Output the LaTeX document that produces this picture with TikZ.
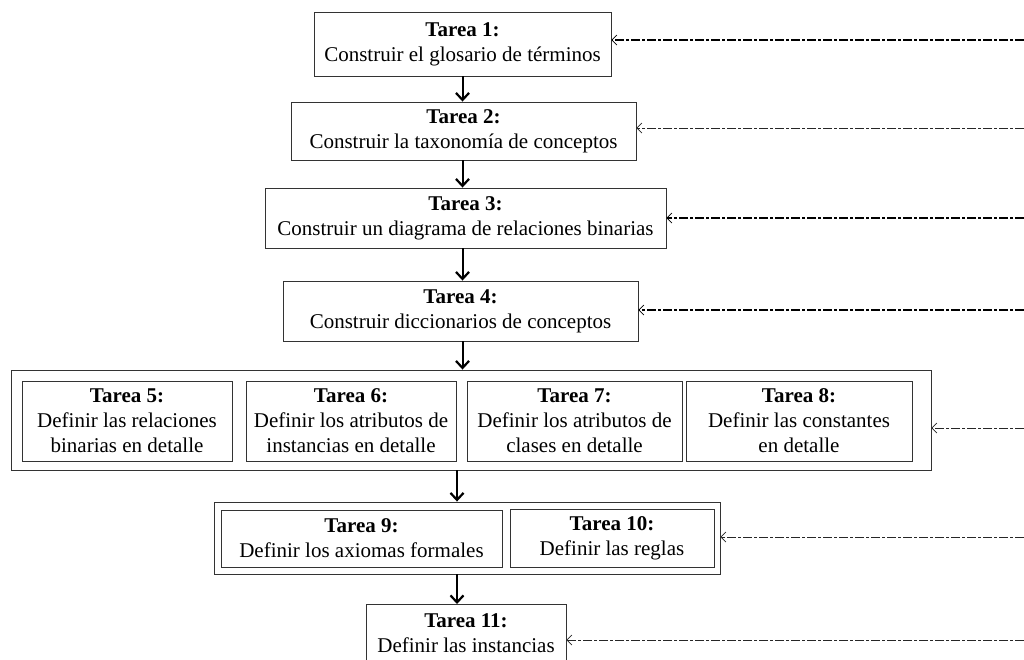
\documentclass[tikz,border=0pt]{standalone}
\usepackage{fontspec}
\setmainfont{Liberation Serif}
\usetikzlibrary{arrows.meta}
\begin{document}
\begin{tikzpicture}[x=1pt,y=-1pt,
  box/.style={draw=black!80,line width=0.9pt,inner sep=0pt,align=center,
    font=\fontsize{21}{25}\selectfont},
  grp/.style={draw=black!80,line width=0.9pt,inner sep=0pt},
  flow/.style={line width=2pt,-{Straight Barb[length=7pt,width=13pt,line width=2.2pt]}},
  fbthick/.style={line width=1.6pt,dash pattern=on 9pt off 2pt on 3pt off 2pt,
    -{Straight Barb[length=5pt,width=10pt,line width=0.7pt]}},
  fbthin/.style={line width=0.8pt,black!85,dash pattern=on 9pt off 2pt on 3pt off 2pt,
    -{Straight Barb[length=5pt,width=10pt,line width=0.7pt]}}
]
\useasboundingbox (0,0) rectangle (1024,659);
\fill[white] (0,0) rectangle (1024,659);

\node[box,minimum width=297pt,minimum height=64pt] (t1) at (462.5,44) {\textbf{Tarea 1:}\\Construir el glosario de términos};
\node[box,minimum width=345pt,minimum height=58pt] (t2) at (463.5,131) {\textbf{Tarea 2:}\\Construir la taxonomía de conceptos};
\node[box,minimum width=401pt,minimum height=60pt] (t3) at (465.5,218) {\textbf{Tarea 3:}\\Construir un diagrama de relaciones binarias};
\node[box,minimum width=355pt,minimum height=60pt] (t4) at (460.5,311) {\textbf{Tarea 4:}\\Construir diccionarios de conceptos};

\node[grp,minimum width=920pt,minimum height=100pt] (g1) at (471,420) {};
\node[box,minimum width=210pt,minimum height=80pt] (t5) at (127,421) {\textbf{Tarea 5:}\\Definir las relaciones\\binarias en detalle};
\node[box,minimum width=210pt,minimum height=80pt] (t6) at (351,421) {\textbf{Tarea 6:}\\Definir los atributos de\\instancias en detalle};
\node[box,minimum width=215pt,minimum height=80pt] (t7) at (574.5,421) {\textbf{Tarea 7:}\\Definir los atributos de\\clases en detalle};
\node[box,minimum width=226pt,minimum height=80pt] (t8) at (799,421) {\textbf{Tarea 8:}\\Definir las constantes\\en detalle};

\node[grp,minimum width=506pt,minimum height=72pt] (g2) at (467,538) {};
\node[box,minimum width=281pt,minimum height=57pt] (t9) at (361.5,538.5) {\textbf{Tarea 9:}\\Definir los axiomas formales};
\node[box,minimum width=204pt,minimum height=58pt] (t10) at (612,538) {\textbf{Tarea 10:}\\Definir las reglas};

\node[box,minimum width=200pt,minimum height=58pt,anchor=north] (t11) at (466,604) {\textbf{Tarea 11:}\\Definir las instancias};

\draw[flow] (t1.south) -- (t1.south |- t2.north);
\draw[flow] (t1.south |- t2.south) -- (t1.south |- t3.north);
\draw[flow] (t1.south |- t3.south) -- (t1.south |- t4.north);
\draw[flow] (t1.south |- t4.south) -- (t1.south |- g1.north);
\coordinate (ax) at (457,0);
\draw[flow] (ax |- g1.south) -- (ax |- g2.north);
\draw[flow] (ax |- g2.south) -- (ax |- t11.north);

\coordinate (r1) at (1024,40);
\coordinate (r2) at (1024,128);
\coordinate (r3) at (1024,218);
\coordinate (r4) at (1024,310);
\coordinate (r5) at (1024,428);
\coordinate (r6) at (1024,537);
\coordinate (r7) at (1024,640);
\draw[fbthick] (r1) -- (r1 -| t1.east);
\draw[fbthin] (r2) -- (r2 -| t2.east);
\draw[fbthick] (r3) -- (r3 -| t3.east);
\draw[fbthick] (r4) -- (r4 -| t4.east);
\draw[fbthin] (r5) -- (r5 -| g1.east);
\draw[fbthin] (r6) -- (r6 -| g2.east);
\draw[fbthin] (r7) -- (r7 -| t11.east);
\end{tikzpicture}
\end{document}
